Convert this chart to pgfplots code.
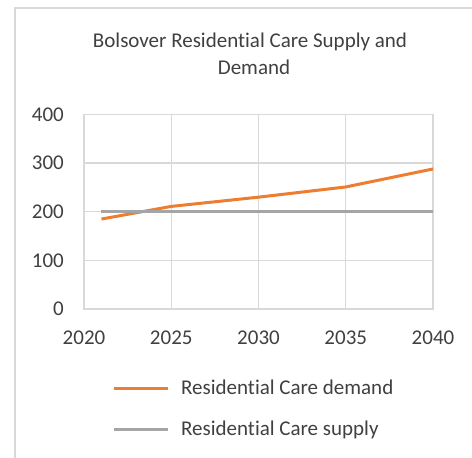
\documentclass[border=0pt]{standalone}
\usepackage{fontspec}
\setmainfont{Carlito}[Ligatures=NoCommon]
\usepackage{pgfplots}
\pgfplotsset{compat=1.18}
\definecolor{demand}{HTML}{ED7D31}
\definecolor{supply}{HTML}{A5A5A5}
\definecolor{gridc}{HTML}{D9D9D9}
\definecolor{txt}{HTML}{404040}
\begin{document}
\fontsize{21bp}{25bp}\selectfont
\begin{tikzpicture}[x=1bp,y=1bp]
\useasboundingbox (0,0) rectangle (472,-458);
% chart frame (cut off at right and bottom)
\draw[gridc, line width=2bp] (15,-462) -- (15,-8.3) -- (476,-8.3);
\node[txt, anchor=base, inner sep=0pt] at (250,-48) {Bolsover Residential Care Supply and};
\node[txt, anchor=base, inner sep=0pt] at (254,-75) {Demand};
\begin{axis}[
    at={(84bp,-309bp)}, anchor=south west,
    scale only axis, width=349bp, height=194.5bp,
    xmin=2020, xmax=2040, ymin=0, ymax=400,
    xtick={2020,2025,...,2040}, ytick={0,100,...,400},
    grid=major, grid style={gridc, line width=1.3bp},
    axis line style={gridc, line width=1.3bp},
    tick style={draw=none},
    /pgf/number format/assume math mode=true,
    /pgf/number format/1000 sep={},
    ticklabel style={txt, font=\fontsize{21bp}{25bp}\selectfont},
    yticklabel style={anchor=east, inner sep=0pt, xshift=-20bp},
    xticklabel style={anchor=north, inner sep=0pt, yshift=-22bp},
    clip=false,
    legend style={draw=none, fill=none, inner sep=0pt,
        at={(axis description cs:0.08,-0.365)}, anchor=north west,
        nodes={inner sep=0pt, text=txt, font=\fontsize{21bp}{25bp}\selectfont, anchor=base west},
        column sep=12bp, row sep=23bp},
    legend cell align=left,
    legend image code/.code={\draw[#1] (0bp,6bp) -- (54bp,6bp);},
]
\addplot[demand, line width=3bp, line join=round] coordinates {
    (2021,185) (2025,211) (2030,230) (2035,251) (2040,288)
};
\addlegendentry{Residential Care demand}
\addplot[supply, line width=3bp] coordinates {
    (2021,201) (2025,201) (2030,201) (2035,201) (2040,201)
};
\addlegendentry{Residential Care supply}
\end{axis}
\end{tikzpicture}
\end{document}
